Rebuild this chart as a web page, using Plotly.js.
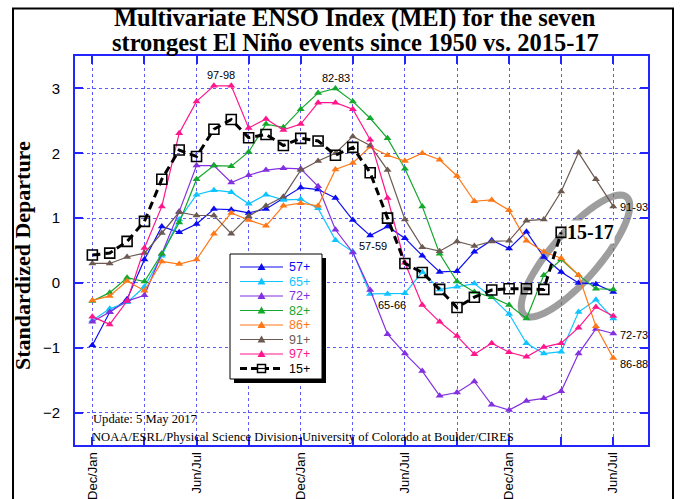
<!DOCTYPE html>
<html><head><meta charset="utf-8">
<script src="https://cdn.plot.ly/plotly-3.0.1.min.js"></script>
<style>html,body{margin:0;padding:0;background:#fff;} #chart{width:680px;height:499px;}</style>
</head><body><div id="chart"></div>
<script>
// ---------------- DATA ----------------
const titleLines = ["Multivariate ENSO Index (MEI) for the seven", "strongest El Niño events since 1950 vs. 2015-17"];
const seasonTickLabels = ["Dec/Jan","Jun/Jul","Dec/Jan","Jun/Jul","Dec/Jan","Jun/Jul"];
const seriesNames = ["57+","65+","72+","82+","86+","91+","97+","15+"];
const mei57 = [-0.96,-0.45,-0.25,0.36,0.87,0.78,0.91,1.14,1.13,1.08,1.14,1.30,1.47,1.44,1.31,0.97,0.73,0.87,0.69,0.42,0.17,0.18,0.48,0.66,0.53,0.79,0.40,0.17,0.00,-0.02,-0.14];
const mei65 = [-0.58,-0.40,-0.30,-0.06,0.42,0.98,1.36,1.43,1.40,1.22,1.36,1.28,1.29,1.15,0.66,0.48,-0.17,-0.17,-0.16,0.17,-0.10,-0.06,-0.01,-0.22,-0.48,-0.93,-1.09,-1.06,-0.45,-0.26,-0.55];
const mei72 = [-0.60,-0.45,-0.28,-0.19,0.45,1.10,1.81,1.81,1.55,1.66,1.74,1.77,1.76,1.49,0.82,0.47,-0.11,-0.79,-1.09,-1.36,-1.74,-1.69,-1.52,-1.88,-1.96,-1.82,-1.78,-1.67,-1.09,-0.71,-0.78];
const mei82 = [-0.28,-0.15,0.08,0.02,0.45,0.93,1.60,1.81,1.80,2.02,2.45,2.40,2.68,2.93,3.00,2.80,2.54,2.23,1.76,1.18,0.45,0.02,-0.14,-0.22,-0.34,-0.55,0.12,0.36,0.12,-0.09,-0.10];
const mei86 = [-0.27,-0.20,0.03,-0.12,0.33,0.29,0.36,0.76,1.08,0.97,0.88,1.19,1.23,1.19,1.75,1.85,2.10,1.97,1.88,2.00,1.90,1.65,1.26,1.28,1.12,0.65,0.48,0.38,0.12,-0.67,-1.16];
const mei91 = [0.30,0.30,0.40,0.46,0.77,1.09,1.04,1.04,0.76,1.03,1.19,1.33,1.74,1.88,2.00,2.26,2.12,1.74,0.98,0.55,0.49,0.64,0.57,0.64,0.65,0.96,0.98,1.41,2.01,1.60,1.18];
const mei97 = [-0.52,-0.64,-0.28,0.54,1.18,2.31,2.80,3.04,3.04,2.39,2.53,2.36,2.45,2.78,2.78,2.68,2.21,1.31,0.31,-0.34,-0.60,-0.82,-1.10,-0.93,-1.07,-1.14,-0.99,-0.93,-0.69,-0.37,-0.51];
const mei15 = [0.43,0.46,0.64,0.95,1.60,2.05,1.95,2.37,2.52,2.24,2.29,2.12,2.23,2.19,1.97,2.09,1.70,1.00,0.30,0.16,-0.10,-0.38,-0.22,-0.11,-0.09,-0.09,-0.10,0.78];
const eventLabels = ["97-98","82-83","57-59","65-66","91-93","72-73","86-88"];
const highlightLabel = "15-17";
const yTickValues = [-2,-1,0,1,2,3];

// ---------------- STYLE ----------------
const colors = ["#0c0cf0","#10c4ff","#8230e0","#14a82c","#ff7818","#6c5a52","#ff168c","#000000"];
const allSeries = [mei57,mei65,mei72,mei82,mei86,mei91,mei97,mei15];
const axisBlue = "#2424ff", gridBlue = "#5a5aff";
const SANS = "Liberation Sans, Arial, sans-serif";
const SERIF = "Liberation Serif, Times New Roman, serif";
const PL = 75, PR = 648, PT = 56, PB = 445;
const XR = [-1, 32], YR = [-2.5, 3.5];
const px = X => (X - PL) / (PR - PL);
const py = Y => (PB - Y) / (PB - PT);
const dx = X => XR[0] + (X - PL) / (PR - PL) * (XR[1] - XR[0]);
const dy = Y => YR[1] - (Y - PT) / (PB - PT) * (YR[1] - YR[0]);

const traces = allSeries.map((vals, k) => {
  const isNew = k === allSeries.length - 1;
  return {
    type: "scatter", mode: "lines+markers", name: seriesNames[k],
    x: vals.map((_, i) => i), y: vals,
    line: isNew ? {color: "#000", width: 3, dash: "8px,5px"} : {color: colors[k], width: 1.2},
    marker: isNew ? {symbol: "square-open", size: 10, color: "#000", line: {width: 1.6, color: "#000"}}
                  : {symbol: "triangle-up", size: 7, color: colors[k], line: {width: 0}},
    showlegend: false, cliponaxis: false, hoverinfo: "skip"
  };
});

const xTickVals = [], xTickText = [];
for (let i = 0; i <= 30; i += 3) { xTickVals.push(i); xTickText.push(i % 6 === 0 ? seasonTickLabels[i / 6] : ""); }

const eventPos = [[220.7,75],[335.7,78.3],[372.7,245.7],[391.7,305],[633.5,207.3],[633.5,335],[634,364]];
const annotations = eventLabels.map((t, k) => ({
  text: t, x: dx(eventPos[k][0]), y: dy(eventPos[k][1]), xref: "x", yref: "y",
  showarrow: false, xanchor: "center", yanchor: "middle", font: {family: SANS, size: 11, color: "#000"}
}));
annotations.push({text: "<b>" + highlightLabel + "</b>", x: dx(566), y: dy(232), xref: "x", yref: "y",
  showarrow: false, xanchor: "left", yanchor: "middle", bgcolor: "#fff", borderpad: 0,
  font: {family: SERIF, size: 20, color: "#000"}});
titleLines.forEach((t, k) => annotations.push({text: "<b>" + t + "</b>", x: px(355), y: py(18 + 24 * k),
  xref: "paper", yref: "paper", showarrow: false, xanchor: "center", yanchor: "middle", borderpad: 0,
  font: {family: SERIF, size: 24.5, color: "#000"}}));
annotations.push({text: "<b>Standardized Departure</b>", x: px(22), y: py(256), xref: "paper", yref: "paper",
  showarrow: false, textangle: -90, xanchor: "center", yanchor: "middle", font: {family: SERIF, size: 22, color: "#000"}});
annotations.push({text: "Update: 5 May 2017", x: px(92), y: py(419), xref: "paper", yref: "paper",
  showarrow: false, xanchor: "left", yanchor: "middle", borderpad: 0, font: {family: SERIF, size: 12.6, color: "#000"}});
annotations.push({text: "NOAA/ESRL/Physical Science Division-University of Colorado at Boulder/CIRES", x: px(91), y: py(437),
  xref: "paper", yref: "paper", showarrow: false, xanchor: "left", yanchor: "middle", borderpad: 0,
  font: {family: SERIF, size: 12.6, color: "#000"}});

const shapes = [];
{
  const cx = 575.5, cy = 256, a = 78, b = 24, th = 49 * Math.PI / 180;
  let p = "";
  for (let s = 0; s <= 72; s++) {
    const t = s / 72 * 2 * Math.PI;
    const X = cx + a * Math.cos(t) * Math.cos(th) - b * Math.sin(t) * Math.sin(th);
    const Y = cy - (a * Math.cos(t) * Math.sin(th) + b * Math.sin(t) * Math.cos(th));
    p += (s === 0 ? "M" : "L") + dx(X).toFixed(4) + "," + dy(Y).toFixed(4);
  }
  shapes.push({type: "path", path: p + "Z", xref: "x", yref: "y", layer: "below", line: {color: "#9e9e9e", width: 7}});
}
shapes.push({type: "rect", xref: "paper", yref: "paper", x0: px(13), x1: px(673), y0: py(515), y1: py(8.5),
  line: {color: "#000", width: 2}, fillcolor: "rgba(0,0,0,0)", layer: "above"});
const LG = {x0: 230, y0: 254, x1: 322, y1: 379, row0: 267, step: 14.5, lx0: 240, lx1: 283, tx: 288};
shapes.push({type: "rect", xref: "paper", yref: "paper", x0: px(LG.x0 + 4), x1: px(LG.x1 + 4), y0: py(LG.y1 + 4), y1: py(LG.y0 + 4),
  line: {width: 0}, fillcolor: "#000", layer: "above"});
shapes.push({type: "rect", xref: "paper", yref: "paper", x0: px(LG.x0), x1: px(LG.x1), y0: py(LG.y1), y1: py(LG.y0),
  line: {color: "#000", width: 1}, fillcolor: "#fff", layer: "above"});
seriesNames.forEach((nm, k) => {
  const Y = LG.row0 + k * LG.step, mx = (LG.lx0 + LG.lx1) / 2;
  const isNew = k === seriesNames.length - 1;
  shapes.push({type: "line", xref: "paper", yref: "paper", x0: px(LG.lx0), x1: px(LG.lx1), y0: py(Y), y1: py(Y),
    line: isNew ? {color: "#000", width: 3, dash: "7px,4px"} : {color: colors[k], width: 1.2}, layer: "above"});
  if (isNew) {
    shapes.push({type: "rect", xref: "paper", yref: "paper", x0: px(mx - 4), x1: px(mx + 4), y0: py(Y + 4), y1: py(Y - 4),
      line: {color: "#000", width: 1.5}, fillcolor: "#fff", layer: "above"});
    shapes.push({type: "line", xref: "paper", yref: "paper", x0: px(mx - 4), x1: px(mx + 4), y0: py(Y), y1: py(Y),
      line: {color: "#000", width: 1.2}, layer: "above"});
  } else {
    shapes.push({type: "path", xref: "paper", yref: "paper", layer: "above", fillcolor: colors[k], line: {width: 0},
      path: "M" + px(mx - 4) + "," + py(Y + 3) + "L" + px(mx + 4) + "," + py(Y + 3) + "L" + px(mx) + "," + py(Y - 4) + "Z"});
  }
  annotations.push({text: nm, x: px(LG.tx), y: py(Y), xref: "paper", yref: "paper", showarrow: false, borderpad: 0,
    xanchor: "left", yanchor: "middle", font: {family: SANS, size: 12.5, color: colors[k]}});
});

const layout = {
  width: 680, height: 499, paper_bgcolor: "#fff", plot_bgcolor: "#fff",
  margin: {l: PL, r: 680 - PR, t: PT, b: 499 - PB, pad: 0},
  xaxis: {range: XR, tickmode: "array", tickvals: xTickVals, ticktext: xTickText, tickangle: -90,
    ticks: "inside", ticklen: 8, tickwidth: 2, tickcolor: axisBlue, showline: true, linecolor: axisBlue, linewidth: 2,
    mirror: "allticks", showgrid: true, gridcolor: gridBlue, griddash: "dot", gridwidth: 1, zeroline: false,
    tickfont: {family: SANS, size: 13, color: "#000"}, fixedrange: true},
  yaxis: {range: YR, tickmode: "array", tickvals: yTickValues, ticks: "inside", ticklen: 8, tickwidth: 2, tickcolor: axisBlue,
    showline: true, linecolor: axisBlue, linewidth: 2, mirror: "allticks", showgrid: true, gridcolor: gridBlue, griddash: "dot",
    gridwidth: 1, zeroline: false, tickfont: {family: SANS, size: 15, color: "#000"}, ticklabelstandoff: 10, fixedrange: true},
  yaxis2: {range: YR, overlaying: "y", side: "right", anchor: "x", tickmode: "array", tickvals: yTickValues, ticks: "",
    showgrid: false, zeroline: false, showline: false, tickfont: {family: SANS, size: 15, color: "#000"},
    ticklabelstandoff: 11, fixedrange: true},
  annotations: annotations, shapes: shapes, showlegend: false
};
Plotly.newPlot("chart", traces, layout, {displayModeBar: false, staticPlot: true});
</script></body></html>
